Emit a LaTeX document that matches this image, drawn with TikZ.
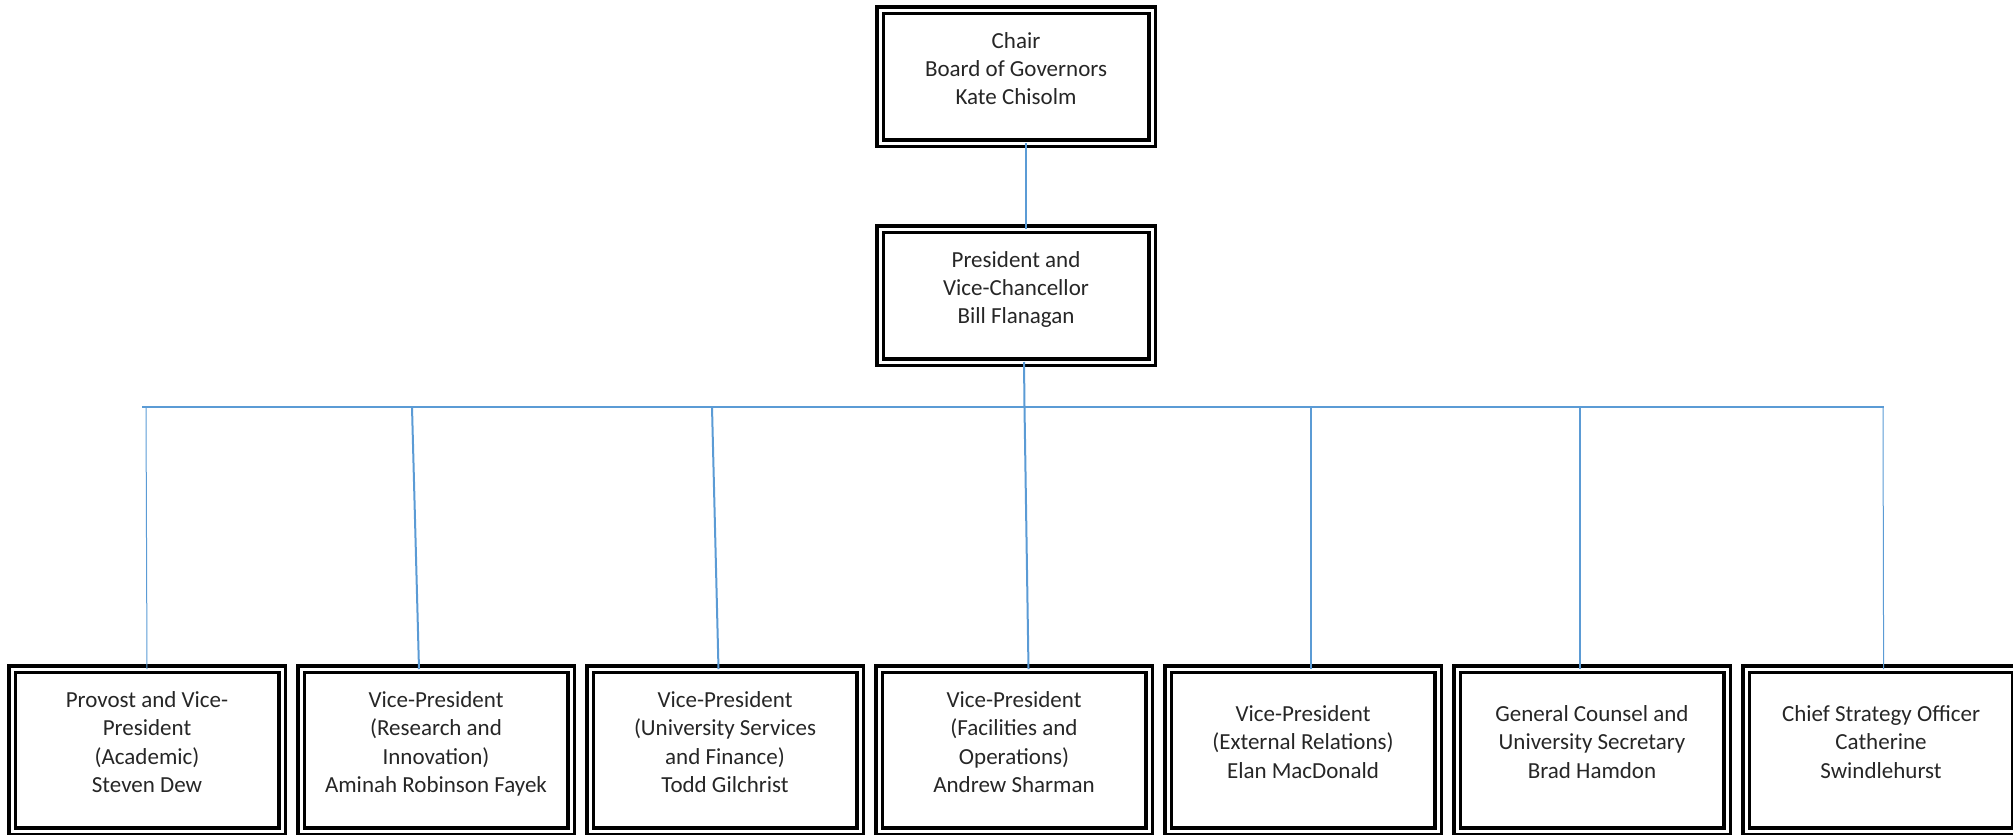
\documentclass[tikz,border=0pt]{standalone}
\usepackage{fontspec}
\setmainfont{Carlito}
\usepackage{tikz}
\definecolor{linkblue}{HTML}{5B9BD5}

\begin{document}
\begin{tikzpicture}[x=0.5pt,y=0.5pt]
\tikzstyle{every node}+=[inner sep=0pt, outer sep=0pt, align=center, text=black!85, font=\fontsize{11.5}{14.2}\selectfont]
\tikzstyle{box}=[draw=black, line width=1.75pt, double=white, double distance=1.5pt, text depth=8pt]
\tikzstyle{headbox}=[box, minimum width=136pt, minimum height=66.5pt]
\tikzstyle{unitbox}=[box, minimum width=135pt, minimum height=81pt]
\tikzstyle{link}=[draw=linkblue, line width=1pt]
\useasboundingbox (0,0) rectangle (2013,-835);
% top of the chart
\node[headbox] (chair) at (1016,-76.5) {Chair\\Board of Governors\\Kate Chisolm};
\node[headbox] (pres) at (1016,-295.5) {President and\\Vice-Chancellor\\Bill Flanagan};
% bottom row
\node[unitbox] (p1) at (147,-750) {Provost and Vice-\\President\\(Academic)\\Steven Dew};
\node[unitbox] (p2) at (436,-750) {Vice-President\\(Research and\\Innovation)\\Aminah Robinson Fayek};
\node[unitbox] (p3) at (725,-750) {Vice-President\\(University Services\\and Finance)\\Todd Gilchrist};
\node[unitbox] (p4) at (1014,-750) {Vice-President\\(Facilities and\\Operations)\\Andrew Sharman};
\node[unitbox] (p5) at (1303,-750) {Vice-President\\(External Relations)\\Elan MacDonald};
\node[unitbox] (p6) at (1592,-750) {General Counsel and\\University Secretary\\Brad Hamdon};
\node[unitbox] (p7) at (1881,-750) {Chief Strategy Officer\\Catherine\\Swindlehurst};
% connectors
\draw[link] ([xshift=5pt]chair.south) -- ([xshift=5pt]pres.north);
\coordinate (busL) at (142,-407);
\coordinate (busR) at (1884,-407);
\draw[link] (busL) -- (busR);
\foreach \i/\x/\dx/\w in {1/146/0pt/0.5pt, 2/412/-8.5pt/1pt, 3/712/-3.25pt/1pt, 4/1024.5/7.25pt/1pt, 5/1311/4pt/1pt, 6/1580/-6pt/1pt, 7/1883/1.3pt/0.5pt}
{
  \coordinate (b\i) at (\x,-407);
  \draw[link, line width=\w] (b\i) -- ([xshift=\dx]p\i.north);
}
\draw[link] ([xshift=4pt]pres.south) -- (b4);
\end{tikzpicture}
\end{document}
